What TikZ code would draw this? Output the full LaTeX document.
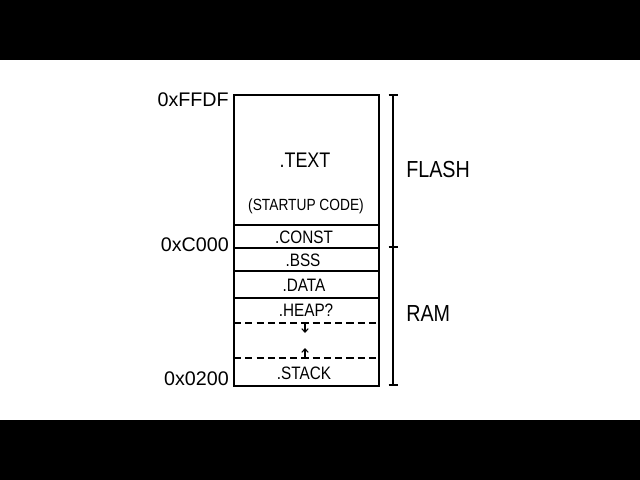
\documentclass[tikz,border=0pt]{standalone}
\usepackage{fontspec}
\setmainfont{Liberation Sans}
\newfontfamily\handfont[FakeStretch=0.85]{Liberation Sans}
\usetikzlibrary{arrows.meta}

\begin{document}
\begin{tikzpicture}[
    x=0.025cm, y=-0.025cm,
    memtext/.style={font=\handfont\fontsize{12.8}{15}\selectfont, inner sep=0pt},
    addr/.style={font=\fontsize{14}{16}\selectfont, anchor=east, inner sep=0pt},
    region/.style={font=\handfont\fontsize{16.5}{19}\selectfont, anchor=west, inner sep=0pt},
    outline/.style={line width=2.1pt},
    divider/.style={line width=1.1pt},
    gap/.style={line width=1pt, dash pattern=on 5pt off 3pt},
    growarrow/.style={-{Straight Barb[length=2.5pt,width=4.5pt]}, line width=0.8pt},
    bracket/.style={line width=1.1pt}
]

% Letterbox bars
\fill (0,0) rectangle (640,60);
\fill (0,420) rectangle (640,480);
\useasboundingbox (0,0) rectangle (640,480);

% Section boundaries
\foreach \y in {225,248,271,298}
    \draw[divider] (234,\y) -- (379,\y);
\draw[gap] (234,323) -- (379,323);
\draw[gap] (234,358) -- (379,358);

% Memory column
\draw[outline] (234,95) rectangle (379,386);

% Section labels
\node[memtext, font=\handfont\fontsize{15}{18}\selectfont] (text) at (305,160) {.TEXT};
\node[memtext, font=\handfont\fontsize{11.5}{14}\selectfont] (startup) at (306,206) {(STARTUP CODE)};
\node[memtext] (const) at (304,237) {.CONST};
\node[memtext] (bss) at (303,260) {.BSS};
\node[memtext] (data) at (304,285) {.DATA};
\node[memtext] (heap) at (306,310) {.HEAP?};
\node[memtext] (stack) at (304,373) {.STACK};

% Heap and stack growth
\coordinate (heap top) at (305,323);
\coordinate (heap end) at (305,333);
\coordinate (stack top) at (305,358);
\coordinate (stack end) at (305,348);
\draw[growarrow] (heap top) -- (heap end);
\draw[growarrow] (stack top) -- (stack end);

% Addresses
\node[addr] (addr_top) at (229,100) {0xFFDF};
\node[addr] (addr_mid) at (229,245) {0xC000};
\node[addr] (addr_low) at (229,379) {0x0200};

% Flash / RAM bracket
\coordinate (br top) at (393,95);
\coordinate (br mid) at (393,247);
\coordinate (br low) at (393,385);
\draw[bracket] (br top) -- (br low);
\foreach \p in {br top, br mid, br low}
    \draw[bracket] ([xshift=-3.2pt]\p) -- ([xshift=3.2pt]\p);
\node[region] (flash) at (406,170) {FLASH};
\node[region] (ram) at (406,314) {RAM};

\end{tikzpicture}
\end{document}
